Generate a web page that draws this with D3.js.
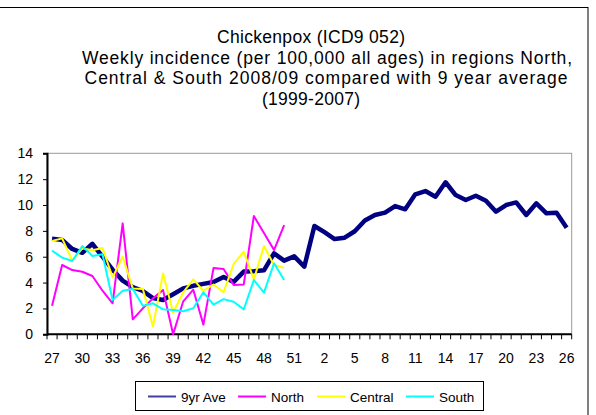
<!doctype html>
<html>
<head>
<meta charset="utf-8">
<title>Chickenpox weekly incidence</title>
<style>
  body { margin: 0; background: #fff; }
  svg { display: block; font-family: "Liberation Sans", Arial, sans-serif; }
</style>
</head>
<body>
<svg id="chart" width="596" height="415"></svg>
<script src="https://cdn.jsdelivr.net/npm/d3@7"></script>
<script>
// weeks 27..52 of 2008 then 1..26 of 2009
var weeks = [27, 28, 29, 30, 31, 32, 33, 34, 35, 36, 37, 38, 39, 40, 41, 42, 43, 44, 45, 46, 47, 48, 49, 50, 51, 52,
             1, 2, 3, 4, 5, 6, 7, 8, 9, 10, 11, 12, 13, 14, 15, 16, 17, 18, 19, 20, 21, 22, 23, 24, 25, 26];
var weekLabels = [27, 30, 33, 36, 39, 42, 45, 48, 51, 2, 5, 8, 11, 14, 17, 20, 23, 26];
var yTicks = [0, 2, 4, 6, 8, 10, 12, 14];

var avg9yr = [7.4, 7.3, 6.6, 6.3, 7.0, 6.0, 5.0, 4.15, 3.65, 3.35,
              2.8, 2.65, 3.1, 3.55, 3.75, 3.9, 4.05, 4.43, 4.05, 4.85,
              4.87, 4.95, 6.26, 5.7, 6.03, 5.23, 8.38, 7.9, 7.37, 7.47,
              7.97, 8.8, 9.23, 9.41, 9.92, 9.67, 10.83, 11.08, 10.64, 11.76,
              10.77, 10.39, 10.72, 10.33, 9.48, 10.0, 10.2, 9.23, 10.13, 9.36,
              9.41, 8.25];
var north = [2.21, 5.36, 4.97, 4.84, 4.51, 3.37, 2.4, 8.58, 1.16, 2.01,
             2.78, 3.43, 0, 2.55, 3.45, 0.75, 5.12, 5.05, 3.81, 3.86,
             9.15, 7.84, 6.52, 8.45];
var central = [7.22, 7.42, 5.69, 6.65, 6.5, 6.68, 4.4, 6.0, 3.55, 3.5,
               0.6, 4.71, 1.67, 3.25, 4.25, 3.36, 3.85, 3.25, 5.44, 6.39,
               4.25, 6.83, 5.36, 5.15];
var south = [6.47, 5.93, 5.67, 6.83, 6.06, 6.19, 2.65, 3.37, 3.5, 2.2,
             2.4, 1.93, 1.88, 1.78, 2.01, 3.25, 2.3, 2.72, 2.52, 1.93,
             4.2, 3.22, 5.49, 4.2];

var titleLines = ["Chickenpox (ICD9 052)",
                  "Weekly incidence (per 100,000 all ages) in regions North,",
                  "Central & South 2008/09 compared with 9 year average",
                  "(1999-2007)"];

var series = [
    {name: "9yr Ave", values: avg9yr, color: "#000080", width: 4.5},
    {name: "North", values: north, color: "#ff00ff", width: 2},
    {name: "Central", values: central, color: "#ffff00", width: 2},
    {name: "South", values: south, color: "#00ffff", width: 2}
];

var svg = d3.select("#chart");

// outer chart frame (left and bottom edges fall outside the picture)
svg.append("rect")
    .attr("x", -3).attr("y", 7.5)
    .attr("width", 591).attr("height", 420)
    .attr("fill", "none").attr("stroke", "#000").attr("stroke-width", 1);

// title - Excel spreads the letters a bit, so fit each line to its width
var titleX = [311, 327, 326, 311];
var titleW = [188, 490, 483, 98];
svg.append("g").selectAll("text")
    .data(titleLines)
    .enter()
    .append("text")
    .attr("x", function(d, i){ return titleX[i]; })
    .attr("y", function(d, i){ return 43 + i * 20.5; })
    .attr("text-anchor", "middle")
    .attr("font-size", "17.5px")
    .attr("textLength", function(d, i){ return titleW[i]; })
    .attr("lengthAdjust", "spacing")
    .attr("fill", "#000")
    .text(function(d){ return d; });

var plot = {left: 47, right: 571.7, top: 153.3, bottom: 334.3};

var x = d3.scaleBand().domain(weeks).range([plot.left, plot.right]);
var y = d3.scaleLinear().domain([0, 14]).range([plot.bottom, plot.top]);
var cx = function(i){ return x(weeks[i]) + x.bandwidth() / 2; };

// plot area border (grey)
svg.append("rect")
    .attr("x", plot.left).attr("y", plot.top)
    .attr("width", plot.right - plot.left).attr("height", plot.bottom - plot.top)
    .attr("fill", "none").attr("stroke", "#9a9a9a").attr("stroke-width", 1);

// y axis
var yAxis = svg.append("g")
    .attr("transform", "translate(" + plot.left + ",0)")
    .call(d3.axisLeft(y).tickValues(yTicks).tickSize(4).tickPadding(10));
yAxis.select(".domain").attr("stroke", "#000").attr("stroke-width", 2);
yAxis.selectAll("text").attr("font-size", "14px").attr("font-family", "Liberation Sans, Arial, sans-serif").attr("fill", "#000");

// x axis: ticks between categories, labels every 3rd week
var xg = svg.append("g");
xg.append("line")
    .attr("x1", plot.left).attr("x2", plot.right)
    .attr("y1", plot.bottom).attr("y2", plot.bottom)
    .attr("stroke", "#000").attr("stroke-width", 2);
xg.selectAll("line.tick")
    .data(weeks.concat(["end"]))
    .enter()
    .append("line")
    .attr("class", "tick")
    .attr("x1", function(d, i){ return plot.left + i * x.bandwidth(); })
    .attr("x2", function(d, i){ return plot.left + i * x.bandwidth(); })
    .attr("y1", plot.bottom).attr("y2", plot.bottom + 5)
    .attr("stroke", "#000").attr("stroke-width", 1);
xg.selectAll("text")
    .data(weekLabels)
    .enter()
    .append("text")
    .attr("x", function(d){ return x(d) + x.bandwidth() / 2; })
    .attr("y", 363)
    .attr("text-anchor", "middle")
    .attr("font-size", "14px")
    .text(function(d){ return d; });

// lines
var line = d3.line()
    .x(function(d, i){ return cx(i); })
    .y(function(d){ return y(d); });

svg.append("g").selectAll("path")
    .data(series)
    .enter()
    .append("path")
    .attr("d", function(d){ return line(d.values); })
    .attr("fill", "none")
    .attr("stroke", function(d){ return d.color; })
    .attr("stroke-width", function(d){ return d.width; })
    .attr("stroke-linejoin", "round");

// legend
var legend = svg.append("g");
legend.append("rect")
    .attr("x", 135.5).attr("y", 381.5)
    .attr("width", 348).attr("height", 29)
    .attr("fill", "#fff").attr("stroke", "#000").attr("stroke-width", 1);
var legendX = [148, 238, 317, 406];
var item = legend.selectAll("g.item")
    .data(series)
    .enter()
    .append("g")
    .attr("class", "item")
    .attr("transform", function(d, i){ return "translate(" + legendX[i] + ",396.5)"; });
item.append("line")
    .attr("x1", 0).attr("x2", 28)
    .attr("stroke", function(d){ return d.color; })
    .attr("stroke-width", 2)
    .attr("stroke-opacity", function(d, i){ return i == 0 ? 0.75 : 1; });
item.append("text")
    .attr("x", 33).attr("y", 5)
    .attr("font-size", "13.5px")
    .text(function(d){ return d.name; });
</script>
</body>
</html>
